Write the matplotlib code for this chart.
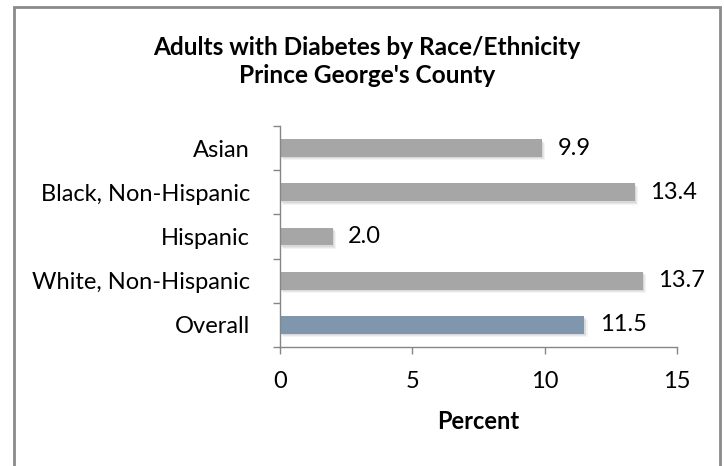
import matplotlib
matplotlib.use("Agg")
import matplotlib.pyplot as plt
from matplotlib.patches import Rectangle
import numpy as np

# Data
categories = ["Asian", "Black, Non-Hispanic", "Hispanic", "White, Non-Hispanic", "Overall"]
values = [9.9, 13.4, 2.0, 13.7, 11.5]
bar_colors = ["#a6a6a6", "#a6a6a6", "#a6a6a6", "#a6a6a6", "#7f96ad"]
x_ticks = [0, 5, 10, 15]
title = "Adults with Diabetes by Race/Ethnicity\nPrince George's County"
x_label = "Percent"

plt.rcParams["font.family"] = ["Lato", "DejaVu Sans"]

W, H = 724, 466
fig = plt.figure(figsize=(W / 100, H / 100), dpi=100)
fig.patch.set_facecolor("white")

# outer chart frame
fig.patches.append(Rectangle((14 / W, -0.05), (720 - 14) / W, 1.05 - 7 / H,
                             transform=fig.transFigure, fill=False,
                             edgecolor="#8a8a8a", linewidth=2.0))

ax = fig.add_axes([280 / W, 1 - 347 / H, (677 - 280) / W, (347 - 126) / H])
y = np.arange(len(categories))

# soft drop shadow under each bar
for dx, dy, a in [(0.12, 0.08, 0.08), (0.08, 0.055, 0.10), (0.05, 0.035, 0.12)]:
    ax.barh(y + dy, values, height=0.4, left=dx, color="#7a7a7a", alpha=a,
            linewidth=0, zorder=1)
ax.barh(y, values, height=0.4, color=bar_colors, linewidth=0, zorder=2)

for yi, v in zip(y, values):
    ax.annotate(f"{v:.1f}", xy=(v, yi), xytext=(11, 0), textcoords="offset points",
                ha="left", va="center", fontsize=17, color="#000000")

ax.set_xlim(0, 15)
ax.set_ylim(len(categories) - 0.5, -0.5)
ax.set_xticks(x_ticks)
ax.set_xticklabels([str(t) for t in x_ticks])
ax.set_yticks(y)
ax.set_yticklabels(categories)
ax.set_yticks(np.arange(len(categories) + 1) - 0.5, minor=True)

spine_c = "#868686"
for s in ["top", "right"]:
    ax.spines[s].set_visible(False)
for s in ["left", "bottom"]:
    ax.spines[s].set_color(spine_c)
    ax.spines[s].set_linewidth(1.0)

ax.tick_params(axis="y", which="major", length=0, pad=21.5, labelsize=17)
ax.tick_params(axis="y", which="minor", length=5, width=1.0, color=spine_c, direction="out")
ax.tick_params(axis="x", which="major", length=5, width=1.0, color=spine_c,
               direction="out", pad=12, labelsize=17)

fig.text(367 / W, 1 - 61.5 / H, title, ha="center", va="center", fontsize=17.6,
         fontweight="bold", linespacing=1.3)
fig.text(478.5 / W, 1 - 421.5 / H, x_label, ha="center", va="center", fontsize=17,
         fontweight="bold")

fig.savefig("out.png", dpi=100)
